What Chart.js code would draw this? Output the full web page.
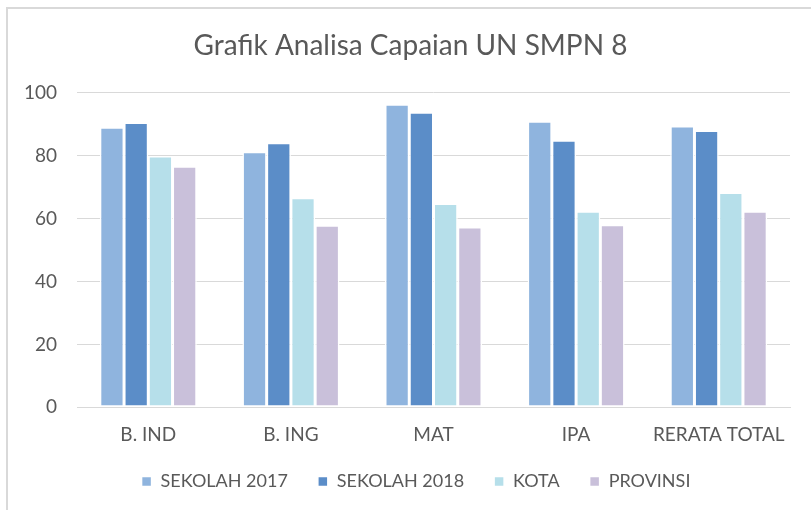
<!DOCTYPE html>
<html>
<head>
<meta charset="utf-8">
<script src="https://cdn.jsdelivr.net/npm/chart.js@4/dist/chart.umd.min.js"></script>
<style>
  html, body { margin: 0; padding: 0; background: #fff; overflow: hidden; }
  .frame {
    position: absolute; left: 6px; top: 7px; width: 900px; height: 600px;
    border: 2px solid #d9d9d9;
  }
  .wrap { position: absolute; left: 0; top: 0; width: 811px; height: 510px; }
</style>
</head>
<body>
<div class="frame"></div>
<div class="wrap"><canvas id="grafik" width="811" height="510"></canvas></div>
<script>
const mapel = ['B. IND', 'B. ING', 'MAT', 'IPA', 'RERATA TOTAL'];
const sekolah2017 = [89.0, 81.2, 96.3, 90.9, 89.4];
const sekolah2018 = [90.5, 84.1, 93.8, 84.9, 88.0];
const kota = [79.9, 66.6, 64.8, 62.3, 68.3];
const provinsi = [76.6, 57.9, 57.3, 58.0, 62.3];
const yTicks = [0, 20, 40, 60, 80, 100];

const abu = '#595959';
const font = 'Lato, "Open Sans", sans-serif';

function seri(label, data, warna) {
  return {
    label, data,
    backgroundColor: warna,
    borderColor: '#ffffff',
    borderWidth: 1.5,
    borderSkipped: false,
    categoryPercentage: 0.68,
    barPercentage: 1.0
  };
}

// geser judul sedikit ke kiri dan legenda sedikit ke atas
const geser = {
  id: 'geser',
  afterLayout(chart) {
    const t = chart.titleBlock;
    if (t) { t.left -= 5.5; t.right -= 5.5; }
    const lg = chart.legend;
    if (lg) { lg.top -= 3.8; lg.bottom -= 3.8; }
  }
};

new Chart(document.getElementById('grafik').getContext('2d'), {
  type: 'bar',
  data: {
    labels: mapel,
    datasets: [
      seri('SEKOLAH 2017', sekolah2017, '#8fb4de'),
      seri('SEKOLAH 2018', sekolah2018, '#5b8dc8'),
      seri('KOTA', kota, '#b6dfea'),
      seri('PROVINSI', provinsi, '#c9c0da')
    ]
  },
  plugins: [geser],
  options: {
    responsive: false,
    animation: false,
    layout: { padding: { top: 0, right: 0, bottom: 5.7, left: 21 } },
    plugins: {
      title: {
        display: true,
        text: 'Grafik Analisa Capaian UN SMPN 8',
        color: abu,
        font: { family: font, size: 28, weight: 'normal' },
        padding: { top: 28.7, bottom: 30.4 }
      },
      legend: {
        position: 'bottom',
        labels: {
          color: abu,
          font: { family: font, size: 18 },
          boxWidth: 10,
          boxHeight: 10,
          padding: 30
        }
      },
      tooltip: { enabled: false }
    },
    scales: {
      x: {
        grid: { display: false, drawTicks: false },
        border: { display: true, color: '#d9d9d9', width: 1 },
        ticks: { color: abu, font: { family: font, size: 19 }, padding: 16 },
        afterFit: s => { s.height = 39; }
      },
      y: {
        min: 0, max: 100,
        afterBuildTicks: s => { s.ticks = yTicks.map(v => ({ value: v })); },
        grid: { color: '#d9d9d9', lineWidth: 1, drawTicks: false },
        border: { display: false },
        ticks: { color: abu, font: { family: font, size: 19 }, padding: 20 },
        afterFit: s => { s.width = 56; }
      },
      kanan: {
        position: 'right',
        min: 0, max: 100,
        grid: { display: false, drawTicks: false },
        border: { display: false },
        ticks: { display: false },
        afterFit: s => { s.width = 21; }
      }
    }
  }
});
</script>
</body>
</html>
